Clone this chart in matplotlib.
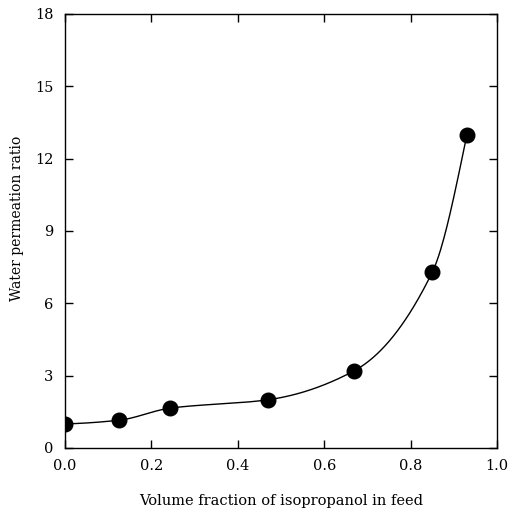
import numpy as np
import matplotlib.pyplot as plt

# data
frac_isopropanol = np.array([0.0, 0.125, 0.243, 0.47, 0.669, 0.85, 0.93])
water_ratio = np.array([1.0, 1.15, 1.65, 2.0, 3.2, 7.3, 13.0])

x_ticks = [0.0, 0.2, 0.4, 0.6, 0.8, 1.0]
y_ticks = [0, 3, 6, 9, 12, 15, 18]


def pchip(x, y, xs):
    """Monotone cubic (Fritsch-Carlson) interpolation, numpy only."""
    h = np.diff(x)
    delta = np.diff(y) / h
    n = len(x)
    d = np.zeros(n)
    for i in range(1, n - 1):
        if delta[i - 1] * delta[i] > 0:
            w1 = 2 * h[i] + h[i - 1]
            w2 = h[i] + 2 * h[i - 1]
            d[i] = (w1 + w2) / (w1 / delta[i - 1] + w2 / delta[i])
    d[0] = delta[0] * 0.3
    d[-1] = ((2 * h[-1] + h[-2]) * delta[-1] - h[-1] * delta[-2]) / (h[-1] + h[-2])
    out = np.zeros_like(xs)
    for k, xv in enumerate(xs):
        i = int(np.clip(np.searchsorted(x, xv, side='right') - 1, 0, n - 2))
        t = (xv - x[i]) / h[i]
        h00 = 2 * t**3 - 3 * t**2 + 1
        h10 = t**3 - 2 * t**2 + t
        h01 = -2 * t**3 + 3 * t**2
        h11 = t**3 - t**2
        out[k] = h00 * y[i] + h10 * h[i] * d[i] + h01 * y[i + 1] + h11 * h[i] * d[i + 1]
    return out


plt.rcParams['font.family'] = ['DejaVu Serif']

fig = plt.figure(figsize=(5.10, 5.17), dpi=100)
ax = fig.add_axes([0.127, 0.1335, 0.848, 0.8395])

xs = np.linspace(frac_isopropanol[0], frac_isopropanol[-1], 400)
ax.plot(xs, pchip(frac_isopropanol, water_ratio, xs), color='black', lw=1.0)
ax.plot(frac_isopropanol, water_ratio, 'o', color='black', ms=10.5)

ax.set_xlim(0, 1.0)
ax.set_ylim(0, 18)
ax.set_xticks(x_ticks)
ax.set_xticklabels([f'{v:.1f}' for v in x_ticks])
ax.set_yticks(y_ticks)
ax.tick_params(direction='in', top=True, right=True, length=6, width=1.0,
               labelsize=10.5, pad=8)
for s in ax.spines.values():
    s.set_linewidth(1.0)

ax.set_xlabel('Volume fraction of isopropanol in feed', fontsize=10.5, labelpad=15)
ax.set_ylabel('Water permeation ratio', fontsize=10)
ax.yaxis.set_label_coords(-0.095, 0.53)

fig.savefig('out.png', dpi=100)
